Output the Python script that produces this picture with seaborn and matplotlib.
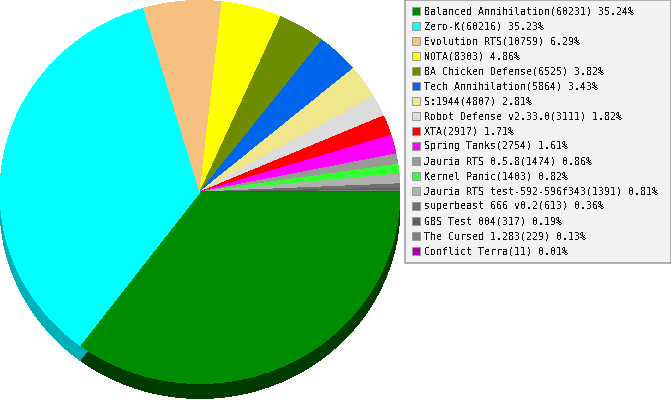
import matplotlib
matplotlib.use("Agg")
import matplotlib.pyplot as plt
from matplotlib.patches import Patch
import seaborn as sns
import numpy as np

names = ["Balanced Annihilation", "Zero-K", "Evolution RTS", "NOTA", "BA Chicken Defense",
         "Tech Annihilation", "S:1944", "Robot Defense v2.33.0", "XTA", "Spring Tanks",
         "Jauria RTS 0.5.8", "Kernel Panic", "Jauria RTS test-592-596f343",
         "superbeast 666 v0.2", "GBS Test 004", "The Cursed 1.283", "Conflict Terra"]
counts = [60231, 60216, 10759, 8303, 6525, 5864, 4807, 3111, 2917, 2754,
          1474, 1403, 1391, 613, 317, 229, 11]
shares = ["35.24", "35.23", "6.29", "4.86", "3.82", "3.43", "2.81", "1.82", "1.71", "1.61",
          "0.86", "0.82", "0.81", "0.36", "0.19", "0.13", "0.01"]
colors = ["#008c00", "#00ffff", "#f5c080", "#ffff00", "#6e8c00", "#0066ee", "#f0e68c", "#dcdcdc",
          "#ff0000", "#ff00ff", "#999999", "#33ff33", "#b0b0b0", "#707070", "#606060", "#808080", "#b000a8"]
shadow_colors = ["#003c00", "#00b0b8", "#a88458", "#b0b000", "#4a6000", "#0046a4", "#a49e60", "#989898",
                 "#b00000", "#b000b0", "#6a6a6a", "#22b022", "#7a7a7a", "#4e4e4e", "#424242", "#585858", "#7a0074"]

sns.set_theme(style="white")
plt.rcParams["font.family"] = ["DejaVu Sans Mono"]
plt.rcParams["text.antialiased"] = False

W, H = 671, 400
fig = plt.figure(figsize=(W / 100, H / 100), dpi=100, facecolor="white")
ax = fig.add_axes([0, 0, 400 / W, 1])
ax.axis("off")

wp = dict(linewidth=0, antialiased=False)
ax.pie(counts, colors=shadow_colors, startangle=0, counterclock=False,
       center=(0, -15 / 191.5), radius=1, wedgeprops=wp, frame=True)
ax.pie(counts, colors=colors, startangle=0, counterclock=False,
       center=(0, 0), radius=1, wedgeprops=wp, frame=True)
ax.set_aspect("auto")
ax.set_xlim(-1, 1)
ax.set_ylim(-208 / 191.5, 192 / 191.5)
ax.axis("off")

labels = [f"{n}({c}) {s}%" for n, c, s in zip(names, counts, shares)]
handles = [Patch(facecolor=col, edgecolor="#999999", linewidth=0.7) for col in colors]
leg = fig.legend(handles, labels, loc="upper left", mode="expand",
                 bbox_to_anchor=(405.2 / W, 0, 265.3 / W, 1 + 0.3 / H), bbox_transform=fig.transFigure,
                 borderaxespad=0, fontsize=7.2, frameon=True, fancybox=False,
                 facecolor="#f2f2f2", edgecolor="#999999", framealpha=1,
                 handlelength=0.85, handleheight=0.85, handletextpad=0.32,
                 labelspacing=0.5, borderpad=0.66, labelcolor="#111111")
leg.get_frame().set_linewidth(1.1)

fig.savefig("out.png", dpi=100, facecolor="white")
